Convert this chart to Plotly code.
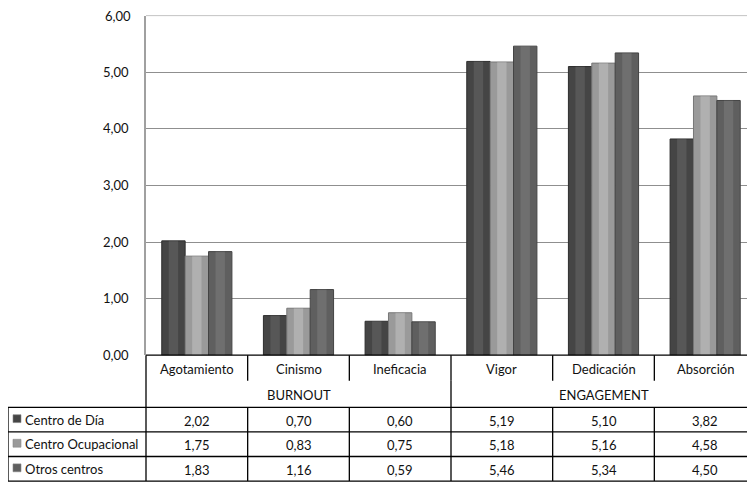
import plotly.graph_objects as go

categories = ["Agotamiento", "Cinismo", "Ineficacia", "Vigor", "Dedicación", "Absorción"]
groups = ["BURNOUT", "ENGAGEMENT"]
group_sizes = [3, 3]
series_names = ["Centro de Día", "Centro Ocupacional", "Otros centros"]
centro_dia = [2.02, 0.70, 0.60, 5.19, 5.10, 3.82]
centro_ocupacional = [1.75, 0.83, 0.75, 5.18, 5.16, 4.58]
otros_centros = [1.83, 1.16, 0.59, 5.46, 5.34, 4.50]
y_ticks = [0, 1, 2, 3, 4, 5, 6]

series_values = [centro_dia, centro_ocupacional, otros_centros]
colors = ["#454545", "#9a9a9a", "#5f5f5f"]
edge = ["#2e2e2e", "#777777", "#444444"]
highlight = ["rgba(255,255,255,0.10)", "rgba(255,255,255,0.22)", "rgba(255,255,255,0.10)"]

W, H = 755, 488
OFF = 8  # page offset of the figure inside the browser window
FONT = "Lato"
FS = 13

def fx(px):
    return (px - OFF) / W

def fy(py):
    return 1 - (py - OFF) / H

def fmt(v):
    return f"{v:.2f}".replace(".", ",")

# layout in window pixels (reference coordinates)
plot_left, plot_right = 146, 756
plot_top, plot_bottom = 15.7, 361
colw = (plot_right - plot_left) / len(categories)
bar_w = 0.23
y_max = max(y_ticks)

fig = go.Figure()
for i, (name, vals, c, e, hl) in enumerate(zip(series_names, series_values, colors, edge, highlight)):
    off = -1.5 * bar_w + i * bar_w
    fig.add_trace(go.Bar(
        x=categories, y=vals, name=name, width=bar_w, offset=off,
        marker=dict(color=c, line=dict(color=e, width=1)),
        showlegend=False,
    ))
    fig.add_trace(go.Bar(
        x=categories, y=vals, name=name, width=bar_w * 0.4, offset=off + bar_w * 0.3,
        marker=dict(color=hl, line=dict(width=0)),
        showlegend=False, hoverinfo="skip",
    ))

shapes = []
annotations = []
line_black = dict(color="#000000", width=1.3)
grid_color = "#8f8f8f"

def hline(x0, x1, y, ln=line_black):
    shapes.append(dict(type="line", xref="paper", yref="paper",
                       x0=fx(x0), x1=fx(x1), y0=fy(y), y1=fy(y), line=ln))

def vline(x, y0, y1, ln=line_black):
    shapes.append(dict(type="line", xref="paper", yref="paper",
                       x0=fx(x), x1=fx(x), y0=fy(y0), y1=fy(y1), line=ln))

def text(s, x, y, xanchor="center"):
    annotations.append(dict(text=s, xref="paper", yref="paper", x=fx(x), y=fy(y),
                            xanchor=xanchor, yanchor="middle", showarrow=False,
                            font=dict(family=FONT, size=FS, color="#111111")))

# top tick (label would be hidden by plotly as it touches the page edge)
shapes.append(dict(type="line", xref="x domain", yref="y", x0=0, x1=1, y0=y_max, y1=y_max,
                   line=dict(color=grid_color, width=1), layer="below"))
annotations.append(dict(text=fmt(y_max), xref="paper", yref="y", x=fx(plot_left - 13), y=y_max,
                        xanchor="right", yanchor="middle", showarrow=False,
                        font=dict(family=FONT, size=FS, color="#111111")))

row_cat_top, row_cat_bot = 361, 387
row_grp_bot = 414
row_h = 25
data_top = row_grp_bot
table_left = 8

hline(plot_left, plot_right, row_cat_top)
for i, cat in enumerate(categories):
    cx = plot_left + colw * (i + 0.5)
    text(cat, cx, (row_cat_top + row_cat_bot) / 2 + 1)
    if i > 0:
        vline(plot_left + colw * i, row_cat_top, row_cat_bot)
start = 0
for g, n in zip(groups, group_sizes):
    gx0 = plot_left + colw * start
    gx1 = plot_left + colw * (start + n)
    text(g, (gx0 + gx1) / 2, (row_cat_bot + row_grp_bot) / 2 + 1)
    if start > 0:
        vline(gx0, row_cat_bot, row_grp_bot)
    start += n
vline(plot_left, row_cat_top, data_top + row_h * 3)
for r in range(len(series_names) + 1):
    hline(table_left, plot_right, data_top + row_h * r)
vline(table_left, data_top, data_top + row_h * 3)
for i in range(1, len(categories)):
    vline(plot_left + colw * i, data_top, data_top + row_h * 3)
for r, (name, vals, c) in enumerate(zip(series_names, series_values, colors)):
    cy = data_top + row_h * (r + 0.5)
    shapes.append(dict(type="rect", xref="paper", yref="paper",
                       x0=fx(13), x1=fx(21), y0=fy(cy - 5), y1=fy(cy + 3),
                       fillcolor=c, line=dict(color="#888888", width=0.6)))
    text(name, 23, cy, xanchor="left")
    for i, v in enumerate(vals):
        cx = plot_left + colw * (i + 0.5)
        text(fmt(v), cx, cy + 1)

fig.update_layout(
    width=W, height=H, autosize=False,
    margin=dict(l=0, r=0, t=0, b=0),
    paper_bgcolor="white", plot_bgcolor="white",
    barmode="overlay",
    separators=",.",
    font=dict(family=FONT, size=FS, color="#111111"),
    xaxis=dict(domain=[fx(plot_left), fx(plot_right)], range=[-0.5, 5.5],
               showticklabels=False, showgrid=False,
               showline=False, zeroline=False, fixedrange=True),
    yaxis=dict(domain=[fy(plot_bottom), fy(plot_top)], range=[0, y_max],
               tickvals=y_ticks[:-1], tickformat=".2f", showgrid=True,
               gridcolor=grid_color, gridwidth=1, zeroline=False,
               showline=True, linecolor="#a0a0a0", linewidth=1.5,
               ticks="", ticklabelstandoff=13,
               tickfont=dict(family=FONT, size=FS, color="#111111")),
    shapes=shapes, annotations=annotations,
)

fig.write_html("out.html")
